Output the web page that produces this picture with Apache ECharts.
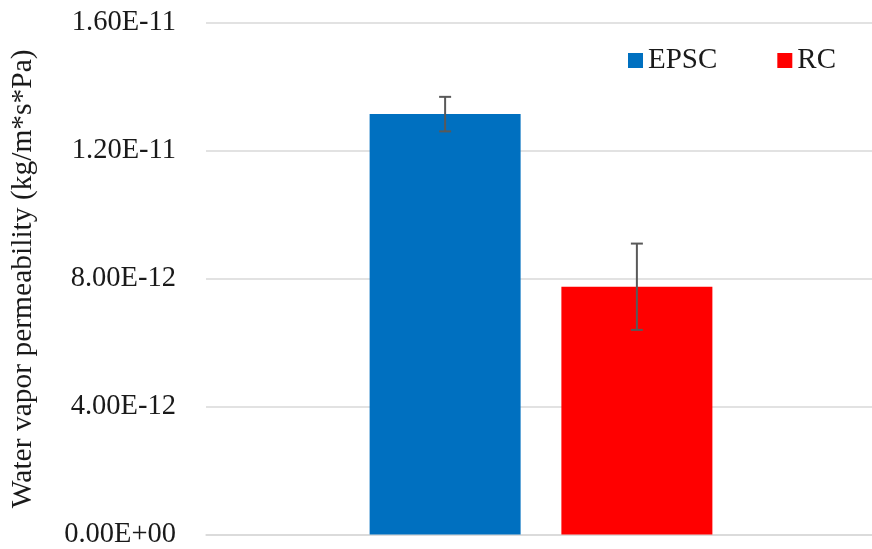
<!DOCTYPE html>
<html>
<head>
<meta charset="utf-8">
<script src="https://cdn.jsdelivr.net/npm/echarts@6/dist/echarts.min.js"></script>
<style>html,body{margin:0;padding:0;background:#fff;overflow:hidden;width:872px;height:549px}#c{width:876px;height:549px}</style>
</head>
<body>
<div id="c"></div>
<script>
const categories = [''];
const seriesNames = ['EPSC', 'RC'];
const epscValues = [1.315e-11];
const rcValues = [7.75e-12];
const epscErr = [0.54e-12];
const rcErr = [1.35e-12];
const yTicks = { min: 0, max: 1.6e-11, interval: 4e-12 };

const FONT = '"Liberation Serif", "Times New Roman", serif';
const BAR_W = 151;
const GAP_RATIO = 0.27;
const colors = ['#0070C0', '#FF0000'];

function fmt(v) {
  if (Math.abs(v) < 1e-20) return '0.00E+00';
  const s = v.toExponential(2).toUpperCase();
  const m = s.match(/^(-?[\d.]+)E([+-])(\d+)$/);
  return m[1] + 'E' + m[2] + (m[3].length < 2 ? '0' + m[3] : m[3]);
}

function errData(vals, errs) {
  return vals.map((v, i) => [i, v - errs[i], v + errs[i]]);
}

function makeErrSeries(vals, errs, sideSign) {
  return {
    type: 'custom',
    data: errData(vals, errs),
    z: 10,
    renderItem: function (params, api) {
      const off = sideSign * (BAR_W + BAR_W * GAP_RATIO) / 2;
      const lo = api.coord([api.value(0), api.value(1)]);
      const hi = api.coord([api.value(0), api.value(2)]);
      const x = lo[0] + off;
      const cap = 6;
      const st = { stroke: '#595959', lineWidth: 2 };
      return {
        type: 'group',
        children: [
          { type: 'line', shape: { x1: x, y1: lo[1], x2: x, y2: hi[1] }, style: st },
          { type: 'line', shape: { x1: x - cap, y1: lo[1], x2: x + cap, y2: lo[1] }, style: st },
          { type: 'line', shape: { x1: x - cap, y1: hi[1], x2: x + cap, y2: hi[1] }, style: st }
        ]
      };
    }
  };
}

const chart = echarts.init(document.getElementById('c'), null, { renderer: 'canvas' });
chart.setOption({
  animation: false,
  backgroundColor: '#fff',
  textStyle: { fontFamily: FONT },
  grid: { left: 203, right: 0, top: 23, height: 512, containLabel: false },
  legend: {
    data: seriesNames,
    left: 623, top: 41,
    itemWidth: 15, itemHeight: 15, itemGap: 60,
    icon: 'rect',
    textStyle: { fontFamily: FONT, fontSize: 29, color: '#1a1a1a' }
  },
  xAxis: {
    type: 'category',
    data: categories,
    axisLine: { show: true, lineStyle: { color: '#D9D9D9', width: 1.5 } },
    axisTick: { show: false },
    axisLabel: { show: false }
  },
  yAxis: {
    type: 'value',
    min: yTicks.min, max: yTicks.max, interval: yTicks.interval,
    name: 'Water vapor permeability (kg/m*s*Pa)',
    nameLocation: 'middle',
    nameRotate: 90,
    nameGap: 168,
    nameTextStyle: { fontFamily: FONT, fontSize: 29.5, color: '#1a1a1a' },
    axisLine: { show: false },
    axisTick: { show: false },
    splitLine: { lineStyle: { color: '#D9D9D9', width: 1.5 } },
    axisLabel: { formatter: fmt, fontFamily: FONT, fontSize: 28.5, color: '#1a1a1a', margin: 30 }
  },
  series: [
    { name: seriesNames[0], type: 'bar', data: epscValues, barWidth: BAR_W, barGap: (GAP_RATIO * 100) + '%', itemStyle: { color: colors[0] } },
    { name: seriesNames[1], type: 'bar', data: rcValues, barWidth: BAR_W, barGap: (GAP_RATIO * 100) + '%', itemStyle: { color: colors[1] } },
    makeErrSeries(epscValues, epscErr, -1),
    makeErrSeries(rcValues, rcErr, 1)
  ]
});
</script>
</body>
</html>
